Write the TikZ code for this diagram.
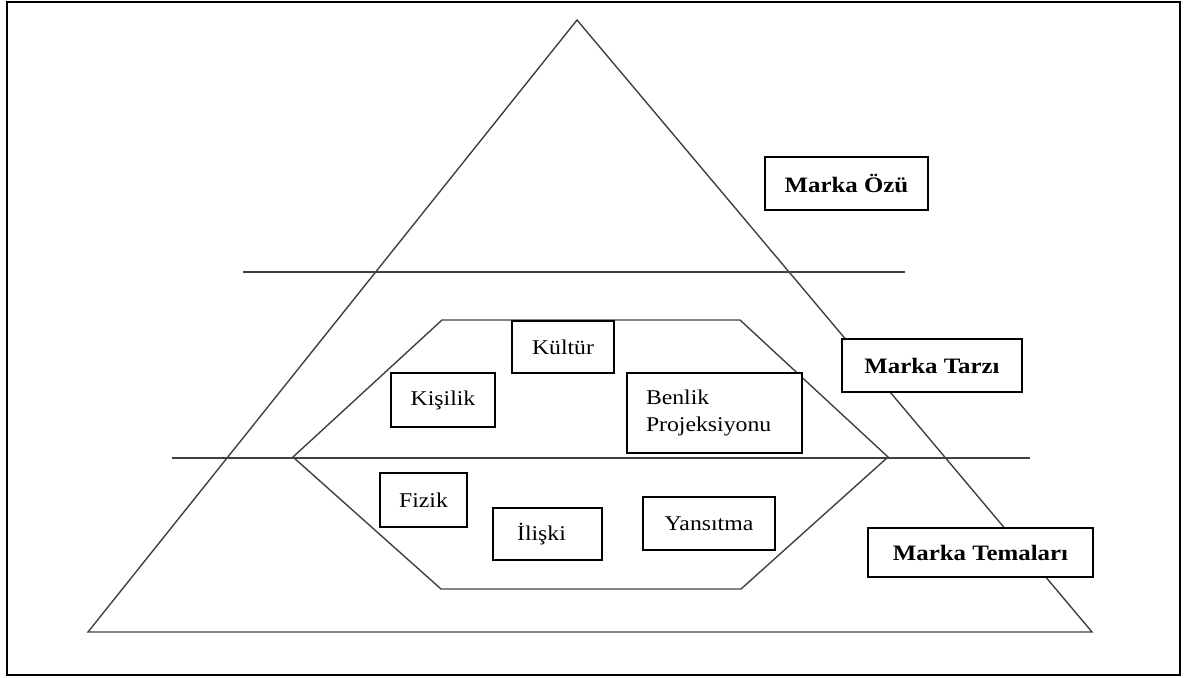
\documentclass[tikz,border=0pt]{standalone}
\usepackage{fontspec}
\setmainfont{Liberation Serif}[FakeStretch=1.13]
\begin{document}
\begin{tikzpicture}[x=1pt,y=-1pt,
  frame/.style={line width=2.2pt},
  guide/.style={line width=1.4pt,draw=black!75},
  boxn/.style={draw,fill=white,line width=1.6pt,inner sep=0pt,font=\fontsize{21}{27}\selectfont},
  tag/.style={boxn,font=\fontsize{22}{26}\selectfont\bfseries}]
\useasboundingbox (0,0) rectangle (1185,677);
\draw[frame] (7,2) rectangle (1180,675);

% pyramid and its level lines
\coordinate (apex) at (577,20);
\coordinate (bl) at (88,632);
\coordinate (br) at (1092,632);
\draw[guide] (apex) -- (bl) -- (br) -- cycle;
\coordinate (l1a) at (243,272); \coordinate (l1b) at (905,272);
\coordinate (l2a) at (172,458); \coordinate (l2b) at (1030,458);
\draw[guide] (l1a) -- (l1b);
\draw[guide] (l2a) -- (l2b);

% hexagon (prism)
\coordinate (h1) at (442,320); \coordinate (h2) at (740,320);
\coordinate (h3) at (888,457); \coordinate (h4) at (741,589);
\coordinate (h5) at (441,589); \coordinate (h6) at (293,457);
\draw[guide] (h1) -- (h2) -- (h3) -- (h4) -- (h5) -- (h6) -- cycle;

% level labels
\node[tag,minimum width=163pt,minimum height=53pt] (ozu) at (846.5,183.5) {Marka Özü};
\node[tag,minimum width=180pt,minimum height=53pt] (tarzi) at (932,365.5) {Marka Tarzı};
\node[tag,minimum width=225pt,minimum height=49pt] (temalari) at (980.5,552.5) {Marka Temaları};

% facets of the prism
\node[boxn,minimum width=102pt,minimum height=52pt] (kultur) at (563,347) {Kültür};
\node[boxn,minimum width=104pt,minimum height=54pt] (kisilik) at (443,400) {Kişilik};
\node[boxn,minimum width=175pt,minimum height=80pt,align=left,text width=137pt] (benlik) at (714.5,413) {Benlik\\Projeksiyonu};
\node[boxn,minimum width=87pt,minimum height=54pt] (fizik) at (423.5,500) {Fizik};
\node[boxn,minimum width=109pt,minimum height=52pt] (iliski) at (547.5,534) {\hspace*{-12pt}İlişki};
\node[boxn,minimum width=132pt,minimum height=53pt] (yansitma) at (709,523.5) {Yansıtma};
\end{tikzpicture}
\end{document}
